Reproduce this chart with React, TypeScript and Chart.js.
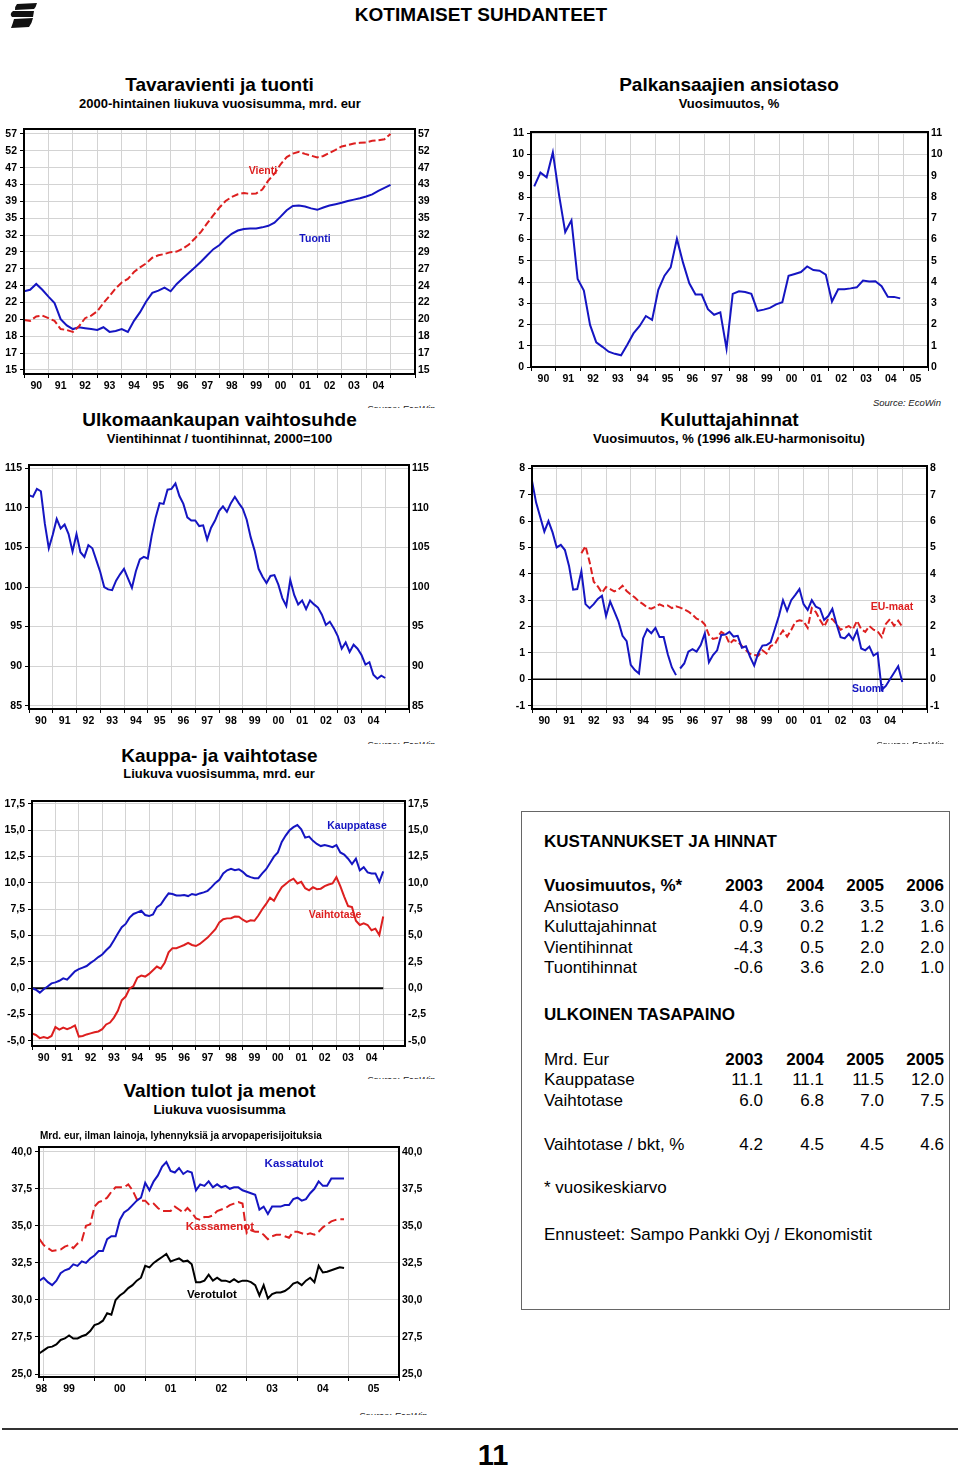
import React, { useEffect, useRef } from 'react';
import { Chart, registerables } from 'chart.js';

Chart.register(...registerables);

const FONT = '"Liberation Sans", Arial, Helvetica, sans-serif';
const BLUE = '#1515c2';
const RED = '#dd1f1f';
const GRID = '#d3d3d3';

// ---------- Chart 1: Tavaravienti ja tuonti (quarterly, log scale) ----------
const c1Start = 1990;
const c1Step = 0.25;
const vientiValues = [
  19.9, 19.8, 20.3, 20.4, 20.1, 19.8, 18.9, 18.8, 18.6, 19.2,
  20.1, 20.4, 20.9, 21.9, 22.8, 23.8, 24.6, 25.1, 26.1, 26.8,
  27.4, 28.3, 28.7, 28.9, 29.2, 29.3, 29.8, 30.5, 31.6, 32.8,
  34.4, 36.0, 37.6, 39.0, 39.9, 40.5, 40.8, 40.6, 40.7, 41.6,
  43.8, 45.5, 48.0, 50.0, 51.0, 51.5, 50.9, 50.4, 49.9, 50.3,
  51.2, 52.1, 53.1, 53.5, 54.0, 54.2, 54.3, 54.8, 55.0, 55.3, 57.0,
];
const tuontiValues = [
  23.4, 23.6, 24.4, 23.6, 22.7, 21.9, 20.0, 19.3, 18.9, 19.1,
  19.0, 18.9, 18.8, 19.1, 18.6, 18.7, 18.9, 18.6, 19.8, 20.8,
  22.1, 23.2, 23.5, 23.9, 23.4, 24.4, 25.2, 26.0, 26.8, 27.7,
  28.7, 29.7, 30.4, 31.5, 32.4, 33.0, 33.3, 33.4, 33.4, 33.6,
  33.9, 34.5, 35.7, 37.0, 37.9, 38.0, 37.8, 37.4, 37.1, 37.6,
  38.0, 38.3, 38.6, 39.0, 39.3, 39.6, 40.0, 40.5, 41.3, 42.0, 42.7,
];
const c1YTicks = [15, 16.5, 18.15, 19.965, 21.96, 24.16, 26.57, 29.23, 32.15, 35.37, 38.91, 42.8, 47.08, 51.79, 56.97];
const c1YLabels = ['15', '17', '18', '20', '22', '24', '27', '29', '32', '35', '39', '43', '47', '52', '57'];

// ---------- Chart 2: Palkansaajien ansiotaso (quarterly) ----------
const c2Start = 1990.13;
const c2Step = 0.25;
const ansiotasoValues = [
  8.5, 9.15, 8.93, 10.1, 8.1, 6.35, 6.9, 4.14, 3.6, 1.98,
  1.16, 0.95, 0.72, 0.62, 0.55, 1.05, 1.58, 1.93, 2.4, 2.22,
  3.63, 4.3, 4.69, 6.03, 4.9, 3.94, 3.41, 3.41, 2.72, 2.46,
  2.57, 0.86, 3.44, 3.56, 3.53, 3.44, 2.64, 2.7, 2.78, 2.95,
  3.05, 4.29, 4.38, 4.47, 4.73, 4.56, 4.53, 4.35, 3.08, 3.66,
  3.66, 3.7, 3.75, 4.07, 4.02, 4.04, 3.8, 3.31, 3.3, 3.23,
];
const c2YTicks = [0, 1, 2, 3, 4, 5, 6, 7, 8, 9, 10, 11];
const c2YLabels = ['0', '1', '2', '3', '4', '5', '6', '7', '8', '9', '10', '11'];

// ---------- Chart 3: Ulkomaankaupan vaihtosuhde (bi-monthly) ----------
const c3Start = 1990;
const c3Step = 1 / 6;
const vaihtosuhdeValues = [
  111.6, 111.4, 112.4, 112.1, 108.0, 104.9, 106.6, 108.6, 107.4, 107.9,
  106.7, 104.5, 106.7, 104.4, 103.8, 105.3, 104.9, 103.4, 101.9, 100.0,
  99.7, 99.6, 100.8, 101.6, 102.3, 101.1, 99.9, 102.0, 103.5, 103.8,
  103.6, 106.5, 108.8, 110.6, 110.5, 112.3, 112.4, 113.1, 111.5, 110.5,
  108.8, 108.4, 108.4, 107.7, 107.8, 106.0, 107.5, 108.4, 109.6, 110.2,
  109.5, 110.6, 111.4, 110.6, 109.9, 108.5, 106.3, 104.6, 102.3, 101.3,
  100.5, 101.4, 101.5, 100.3, 98.6, 97.6, 100.9, 99.0, 97.8, 98.3,
  97.2, 98.3, 97.8, 97.4, 96.5, 95.2, 95.6, 94.8, 93.8, 92.2,
  93.0, 91.8, 92.7, 92.2, 91.4, 90.2, 90.5, 88.9, 88.4, 88.8, 88.5,
];
const c3YTicks = [85, 90, 95, 100, 105, 110, 115];
const c3YLabels = ['85', '90', '95', '100', '105', '110', '115'];

// ---------- Chart 4: Kuluttajahinnat (bi-monthly) ----------
const suomiAStart = 1990;
const suomiAValues = [
  7.52, 6.7, 6.15, 5.6, 6.0, 5.57, 5.0, 5.1, 4.9, 4.3,
  3.4, 3.42, 4.1, 2.85, 2.7, 2.85, 3.05, 3.17, 2.4, 2.95,
  2.58, 2.2, 1.65, 1.45, 0.55, 0.35, 0.22, 1.55, 1.9, 1.75,
  1.95, 1.6, 1.6, 0.95, 0.45, 0.16,
];
const suomiBStart = 1996;
const suomiBValues = [
  0.41, 0.6, 1.05, 1.14, 1.05, 1.3, 1.74, 0.65, 0.92, 1.1,
  1.68, 1.7, 1.8, 1.62, 1.65, 1.2, 1.25, 0.85, 0.52, 1.0,
  1.28, 1.3, 1.4, 1.9, 2.4, 3.0, 2.6, 3.0, 3.2, 3.42,
  2.85, 2.63, 3.0, 2.75, 2.68, 2.25, 2.4, 2.67, 2.1, 1.6,
  1.55, 1.72, 1.5, 1.85, 1.17, 1.1, 1.24, 0.9, 1.0, -0.4,
  -0.25, 0.0, 0.25, 0.5, -0.1,
];
const euStart = 1992;
const euMaatValues = [
  4.78, 5.05, 4.45, 3.7, 3.52, 3.28, 3.5, 3.42, 3.33, 3.4,
  3.55, 3.35, 3.22, 3.1, 2.95, 2.85, 2.72, 2.68, 2.75, 2.84,
  2.77, 2.8, 2.7, 2.77, 2.72, 2.65, 2.57, 2.45, 2.3, 2.24,
  2.08, 1.68, 1.53, 1.57, 1.8, 1.7, 1.35, 1.49, 1.43, 1.27,
  1.1, 0.97, 0.92, 0.9, 1.1, 0.98, 1.26, 1.32, 1.62, 1.85,
  1.62, 1.87, 2.18, 2.24, 2.2, 1.95, 2.7, 2.55, 2.25, 2.0,
  2.3, 2.28, 2.1, 1.88, 1.95, 2.02, 1.9, 2.22, 1.9, 1.8,
  2.02, 1.88, 1.82, 1.6, 2.1, 2.28, 2.03, 2.22, 1.99,
];
const c4Step = 1 / 6;
const c4YTicks = [-1, 0, 1, 2, 3, 4, 5, 6, 7, 8];
const c4YLabels = ['-1', '0', '1', '2', '3', '4', '5', '6', '7', '8'];

// ---------- Chart 5: Kauppa- ja vaihtotase (bi-monthly) ----------
const c5Start = 1990;
const c5Step = 1 / 6;
const kauppataseValues = [
  0.0, -0.15, -0.43, -0.1, 0.15, 0.45, 0.55, 0.7, 0.93, 0.8,
  1.2, 1.6, 1.8, 1.95, 2.1, 2.4, 2.65, 2.95, 3.2, 3.6,
  3.95, 4.55, 5.2, 5.8, 6.1, 6.7, 7.05, 7.2, 7.35, 6.95,
  6.85, 7.0, 7.7, 7.95, 8.5, 9.0, 8.95, 8.8, 8.8, 8.85,
  8.75, 8.95, 8.85, 9.0, 9.1, 9.25, 9.6, 10.0, 10.3, 10.9,
  11.2, 11.35, 11.2, 11.3, 11.05, 10.7, 10.55, 10.45, 10.45, 10.9,
  11.3, 11.9, 12.5, 12.9, 13.9, 14.5, 15.0, 15.3, 15.5, 15.1,
  14.3, 14.4, 14.0, 13.7, 13.5, 13.6, 13.5, 13.4, 13.6, 12.9,
  12.7, 12.3, 11.8, 12.3, 11.2, 11.5, 11.0, 10.9, 10.9, 10.1, 11.1,
];
const vaihtotaseValues = [
  -4.3, -4.45, -4.75, -4.65, -4.75, -4.55, -3.7, -3.95, -3.75, -3.9,
  -3.75, -3.55, -4.6, -4.55, -4.4, -4.3, -4.2, -4.12, -3.9, -3.45,
  -3.27, -2.8, -2.15, -1.15, -0.8, -0.05, 0.2, 1.0, 1.2, 1.1,
  1.35, 1.7, 2.05, 1.85, 2.4, 3.4, 3.8, 3.8, 3.95, 4.1,
  4.3, 4.1, 4.0, 4.2, 4.5, 4.8, 5.2, 5.6, 6.25, 6.55,
  6.63, 6.65, 6.8, 6.78, 6.5, 6.3, 6.45, 6.4, 6.9, 7.5,
  8.0, 8.6, 8.3, 9.0, 9.6, 9.9, 10.2, 10.4, 9.95, 10.1,
  9.5, 9.3, 9.6, 9.4, 9.45, 9.7, 9.85, 9.95, 10.55, 9.7,
  8.7, 7.8, 7.7, 6.4, 6.0, 6.15, 6.0, 5.5, 5.65, 5.05, 6.8,
];
const c5YTicks = [-5, -2.5, 0, 2.5, 5, 7.5, 10, 12.5, 15, 17.5];
const c5YLabels = ['-5,0', '-2,5', '0,0', '2,5', '5,0', '7,5', '10,0', '12,5', '15,0', '17,5'];

// ---------- Chart 6: Valtion tulot ja menot (monthly) ----------
const c6Start = 1998.917;
const c6Step = 1 / 12;
const kassatulotValues = [
  31.3, 31.5, 31.2, 31.0, 31.3, 31.8, 32.0, 32.1, 32.4, 32.3,
  32.6, 32.5, 32.8, 33.0, 33.3, 33.3, 34.1, 34.3, 34.3, 35.4,
  35.9, 36.1, 36.4, 36.7, 36.9, 37.9, 37.4, 38.0, 38.4, 39.0,
  39.3, 38.7, 38.6, 38.9, 38.5, 38.7, 38.6, 37.4, 37.8, 37.7,
  38.0, 37.6, 37.8, 37.6, 37.7, 37.5, 37.6, 37.6, 37.4, 37.3,
  37.2, 37.1, 36.1, 36.3, 35.8, 36.3, 36.3, 36.3, 36.4, 36.4,
  36.8, 36.9, 36.7, 36.8, 37.2, 37.5, 38.0, 37.7, 37.7, 38.2,
  38.2, 38.2, 38.2,
];
const kassamenotValues = [
  34.1, 33.7, 33.5, 33.3, 33.35, 33.4, 33.6, 33.7, 33.5, 33.8,
  34.0, 35.0, 35.1, 36.3, 36.6, 36.7, 36.9, 37.3, 37.6, 37.6,
  37.6, 37.8, 37.4, 36.8, 36.7, 36.7, 36.4, 36.5, 36.2, 36.0,
  36.0, 36.0, 36.3, 36.1, 35.9, 36.2, 35.9, 35.5, 35.4, 35.6,
  35.6, 35.7, 36.0, 36.1, 36.2, 36.4, 36.5, 36.6, 36.5, 34.5,
  34.7, 34.6, 34.6, 34.4, 34.1, 34.3, 34.4, 34.4, 34.3, 34.2,
  34.6, 34.6, 34.5, 34.4, 34.5, 34.4, 34.6, 34.9, 35.1, 35.3,
  35.4, 35.45, 35.45,
];
const verotulotValues = [
  26.4, 26.6, 26.8, 26.85, 27.0, 27.3, 27.4, 27.6, 27.4, 27.4,
  27.55, 27.65, 27.9, 28.3, 28.4, 28.6, 29.1, 29.0, 30.0, 30.3,
  30.5, 30.8, 31.0, 31.3, 31.5, 32.3, 32.2, 32.5, 32.7, 32.9,
  33.1, 32.6, 32.7, 32.8, 32.6, 32.65, 32.4, 31.2, 31.2, 31.3,
  31.7, 31.3, 31.5, 31.3, 31.3, 31.2, 31.4, 31.2, 31.3, 31.3,
  31.2, 31.0, 30.3, 31.0, 30.1, 30.4, 30.5, 30.5, 30.6, 30.8,
  31.1, 31.2, 31.0, 31.3, 31.5, 31.2, 32.3, 31.85, 31.9, 32.0,
  32.1, 32.2, 32.15,
];
const c6YTicks = [25, 27.5, 30, 32.5, 35, 37.5, 40];
const c6YLabels = ['25,0', '27,5', '30,0', '32,5', '35,0', '37,5', '40,0'];

// ---------- Year labels ----------
const years90to04 = ['90', '91', '92', '93', '94', '95', '96', '97', '98', '99', '00', '01', '02', '03', '04'];
const years90to05 = [...years90to04, '05'];
const years98to05 = ['98', '99', '00', '01', '02', '03', '04', '05'];

// ---------- Table ----------
const tableYearsA = ['2003', '2004', '2005', '2006'];
const tableYearsB = ['2003', '2004', '2005', '2005'];
const costRowNames = ['Ansiotaso', 'Kuluttajahinnat', 'Vientihinnat', 'Tuontihinnat'];
const costRowValues = [
  [4.0, 3.6, 3.5, 3.0],
  [0.9, 0.2, 1.2, 1.6],
  [-4.3, 0.5, 2.0, 2.0],
  [-0.6, 3.6, 2.0, 1.0],
];
const balanceRowNames = ['Kauppatase', 'Vaihtotase'];
const balanceRowValues = [
  [11.1, 11.1, 11.5, 12.0],
  [6.0, 6.8, 7.0, 7.5],
];
const gdpRowName = 'Vaihtotase / bkt, %';
const gdpRowValues = [4.2, 4.5, 4.5, 4.6];

// ---------- Chart machinery ----------
type Line = { values: (number | null)[]; start: number; step: number; color: string; dash?: number[]; width?: number };
type Spec = {
  plot: [number, number, number, number];
  leftW: number;
  xMin: number; xMax: number;
  yMin: number; yMax: number;
  yTicks: number[]; yLabels: string[];
  xLabels: string[]; xFirstYear: number;
  log?: boolean;
  lines: Line[];
};

const toPoints = (l: Line) => l.values.map((v, i) => ({ x: l.start + i * l.step, y: v }));

const framePlugin = {
  id: 'frame',
  afterDatasetsDraw(chart: any) {
    const { ctx, chartArea: a } = chart;
    ctx.save();
    ctx.strokeStyle = '#000';
    ctx.lineWidth = 2;
    ctx.strokeRect(a.left, a.top, a.right - a.left, a.bottom - a.top);
    ctx.restore();
  },
};

const PAD_TOP = 10;
const RIGHT_W = 30;
const BOTTOM_H = 22;

function ChartBox({ spec }: { spec: Spec }) {
  const ref = useRef<HTMLCanvasElement | null>(null);
  const [pl, pt, pw, ph] = spec.plot;
  const W = spec.leftW + pw + RIGHT_W;
  const H = PAD_TOP + ph + BOTTOM_H;
  useEffect(() => {
    const gridYears: number[] = [];
    for (let y = Math.ceil(spec.xMin); y <= Math.floor(spec.xMax); y++) gridYears.push(y);
    const labelMap = new Map<number, string>();
    spec.xLabels.forEach((lab, k) => {
      const y0 = spec.xFirstYear + k;
      const lo = Math.max(y0, spec.xMin);
      const hi = Math.min(y0 + 1, spec.xMax);
      labelMap.set((lo + hi) / 2, lab);
    });
    const xTickVals = [...gridYears, ...Array.from(labelMap.keys())].sort((a, b) => a - b);
    const gridSet = new Set(gridYears);
    const tickFont = { family: FONT, size: 10.5, weight: 'bold' as const };
    const yAxis = (pos: 'left' | 'right') => ({
      type: spec.log ? 'logarithmic' : 'linear',
      position: pos,
      min: spec.yMin,
      max: spec.yMax,
      afterBuildTicks: (s: any) => { s.ticks = spec.yTicks.map((v) => ({ value: v })); },
      afterFit: (s: any) => { s.width = pos === 'left' ? spec.leftW : RIGHT_W; },
      grid: pos === 'left'
        ? { color: GRID, lineWidth: 1, tickColor: '#000', tickLength: 4 }
        : { drawOnChartArea: false, drawTicks: false },
      border: { display: false },
      ticks: {
        autoSkip: false,
        font: tickFont,
        color: '#000',
        padding: 3,
        callback: (_v: any, i: number) => spec.yLabels[i],
      },
    });
    const chart = new Chart(ref.current as HTMLCanvasElement, {
      type: 'line',
      data: {
        datasets: spec.lines.map((l) => ({
          data: toPoints(l),
          borderColor: l.color,
          borderWidth: l.width ?? 2,
          borderDash: l.dash ?? [],
          pointRadius: 0,
          fill: false,
          tension: 0,
          spanGaps: false,
          xAxisID: 'x',
          yAxisID: 'y',
        })),
      } as any,
      options: {
        responsive: false,
        maintainAspectRatio: false,
        animation: false,
        events: [],
        layout: { padding: { top: PAD_TOP, left: 0, right: 0, bottom: 0 } },
        plugins: { legend: { display: false }, tooltip: { enabled: false } },
        scales: {
          x: {
            type: 'linear',
            position: 'bottom',
            min: spec.xMin,
            max: spec.xMax,
            afterBuildTicks: (s: any) => { s.ticks = xTickVals.map((v) => ({ value: v })); },
            afterFit: (s: any) => { s.height = BOTTOM_H; },
            grid: {
              color: (c: any) => (c.tick && gridSet.has(c.tick.value) ? GRID : 'rgba(0,0,0,0)'),
              tickColor: (c: any) => (c.tick && gridSet.has(c.tick.value) ? '#000' : 'rgba(0,0,0,0)'),
              tickLength: 4,
              lineWidth: 1,
            },
            border: { display: false },
            ticks: {
              autoSkip: false,
              maxRotation: 0,
              minRotation: 0,
              padding: 2,
              font: tickFont,
              color: '#000',
              callback: (v: any) => labelMap.get(v) ?? '',
            },
          },
          y: yAxis('left'),
          yR: yAxis('right'),
        } as any,
      },
      plugins: [framePlugin],
    });
    return () => chart.destroy();
  }, []);
  return (
    <canvas
      ref={ref}
      width={W}
      height={H}
      style={{ position: 'absolute', left: pl - spec.leftW, top: pt - PAD_TOP, width: W, height: H }}
    />
  );
}

function Txt(props: { x: number; y: number; size: number; bold?: boolean; color?: string; align?: 'left' | 'center' | 'right'; italic?: boolean; children: React.ReactNode }) {
  const { x, y, size, bold = true, color = '#000', align = 'center', italic = false, children } = props;
  const tx = align === 'center' ? '-50%' : align === 'right' ? '-100%' : '0';
  return (
    <div
      style={{
        position: 'absolute', left: x, top: y, transform: `translate(${tx}, -50%)`,
        fontSize: size, fontWeight: bold ? 700 : 400, fontStyle: italic ? 'italic' : 'normal',
        color, whiteSpace: 'nowrap', lineHeight: 1, fontFamily: FONT,
      }}
    >
      {children}
    </div>
  );
}

function ClipSource({ x, y }: { x: number; y: number }) {
  return (
    <div style={{ position: 'absolute', left: x, top: y, height: 5, overflow: 'hidden', fontSize: 9.5, fontStyle: 'italic', fontFamily: FONT, lineHeight: '12px', whiteSpace: 'nowrap', color: '#222' }}>
      Source: EcoWin
    </div>
  );
}

const specs: Spec[] = [
  {
    plot: [24, 129, 391, 245], leftW: 24,
    xMin: 1990, xMax: 2006, yMin: 14.66, yMax: 58.6, log: true,
    yTicks: c1YTicks, yLabels: c1YLabels, xLabels: years90to04, xFirstYear: 1990,
    lines: [
      { values: vientiValues, start: c1Start, step: c1Step, color: RED, dash: [7, 3] },
      { values: tuontiValues, start: c1Start, step: c1Step, color: BLUE },
    ],
  },
  {
    plot: [531, 132, 397, 235], leftW: 30,
    xMin: 1990, xMax: 2006, yMin: 0, yMax: 11.06,
    yTicks: c2YTicks, yLabels: c2YLabels, xLabels: years90to05, xFirstYear: 1990,
    lines: [{ values: ansiotasoValues, start: c2Start, step: c2Step, color: BLUE }],
  },
  {
    plot: [29, 465, 380, 244], leftW: 29,
    xMin: 1990, xMax: 2006, yMin: 84.58, yMax: 115.42,
    yTicks: c3YTicks, yLabels: c3YLabels, xLabels: years90to04, xFirstYear: 1990,
    lines: [{ values: vaihtosuhdeValues, start: c3Start, step: c3Step, color: BLUE }],
  },
  {
    plot: [532, 466, 395, 243], leftW: 30,
    xMin: 1990, xMax: 2006, yMin: -1.125, yMax: 8.087,
    yTicks: c4YTicks, yLabels: c4YLabels, xLabels: years90to04, xFirstYear: 1990,
    lines: [
      { values: suomiAValues, start: suomiAStart, step: c4Step, color: BLUE },
      { values: suomiBValues, start: suomiBStart, step: c4Step, color: BLUE },
      { values: euMaatValues, start: euStart, step: c4Step, color: RED, dash: [7, 3] },
      { values: [0, 0], start: 1990, step: 16, color: '#000', width: 1.5 },
    ],
  },
  {
    plot: [32, 801, 373, 245], leftW: 32,
    xMin: 1990, xMax: 2005.93, yMin: -5.5, yMax: 17.785,
    yTicks: c5YTicks, yLabels: c5YLabels, xLabels: years90to04, xFirstYear: 1990,
    lines: [
      { values: kauppataseValues, start: c5Start, step: c5Step, color: BLUE },
      { values: vaihtotaseValues, start: c5Start, step: c5Step, color: RED },
      { values: [0, 0], start: 1990, step: 15, color: '#000', width: 2 },
    ],
  },
  {
    plot: [39, 1147, 360, 230], leftW: 39,
    xMin: 1998.908, xMax: 2006, yMin: 24.8, yMax: 40.32,
    yTicks: c6YTicks, yLabels: c6YLabels, xLabels: years98to05, xFirstYear: 1998,
    lines: [
      { values: kassatulotValues, start: c6Start, step: c6Step, color: BLUE },
      { values: kassamenotValues, start: c6Start, step: c6Step, color: RED, dash: [9, 4] },
      { values: verotulotValues, start: c6Start, step: c6Step, color: '#000' },
    ],
  },
];

const COLS = [763, 824, 884, 944];
const fmt = (v: number) => v.toFixed(1);

export default function App() {
  const tableRowsCost = [906, 926, 947, 967];
  const tableRowsBal = [1079, 1100];
  return (
    <div style={{ position: 'absolute', left: 0, top: 0, width: 960, height: 1468, background: '#fff', fontFamily: FONT, overflow: 'hidden' }}>
      <svg width={34} height={30} style={{ position: 'absolute', left: 4, top: 1 }} viewBox="0 0 34 30">
        <path d="M13 3 L33 2 Q32 6 30 8 L11 9 Q11 5 13 3 Z" fill="#111" />
        <path d="M9 10 L30 10 L29 16 L8 16 Q5 13 9 10 Z" fill="#111" />
        <path d="M10 18 L29 17 Q28 22 25 26 L7 27 Q9 22 10 18 Z" fill="#111" />
      </svg>
      <Txt x={481} y={14} size={19}>KOTIMAISET SUHDANTEET</Txt>

      <Txt x={219.5} y={84} size={19}>Tavaravienti ja tuonti</Txt>
      <Txt x={220} y={103} size={13}>2000-hintainen liukuva vuosisumma, mrd. eur</Txt>
      <Txt x={729} y={84} size={19}>Palkansaajien ansiotaso</Txt>
      <Txt x={729} y={103} size={13}>Vuosimuutos, %</Txt>

      {specs.map((s, i) => <ChartBox key={i} spec={s} />)}

      <Txt x={263} y={170} size={10.5} color={RED}>Vienti</Txt>
      <Txt x={315} y={238} size={10.5} color={BLUE}>Tuonti</Txt>

      <ClipSource x={367} y={403} />
      <Txt x={941} y={403} size={9.5} bold={false} italic align="right" color="#222">Source: EcoWin</Txt>

      <Txt x={219.5} y={419} size={19}>Ulkomaankaupan vaihtosuhde</Txt>
      <Txt x={219.5} y={438} size={13}>Vientihinnat / tuontihinnat, 2000=100</Txt>
      <Txt x={729.5} y={419} size={19}>Kuluttajahinnat</Txt>
      <Txt x={729} y={438} size={13}>Vuosimuutos, % (1996 alk.EU-harmonisoitu)</Txt>

      <Txt x={892} y={606} size={10.5} color={RED}>EU-maat</Txt>
      <Txt x={852} y={688} size={10.5} color={BLUE} align="left">Suomi</Txt>

      <ClipSource x={367} y={739} />
      <ClipSource x={876} y={739} />

      <Txt x={219.5} y={755} size={19}>Kauppa- ja vaihtotase</Txt>
      <Txt x={219} y={773} size={13}>Liukuva vuosisumma, mrd. eur</Txt>
      <Txt x={357} y={825} size={10.5} color={BLUE}>Kauppatase</Txt>
      <Txt x={335} y={914} size={10.5} color={RED}>Vaihtotase</Txt>

      <ClipSource x={367} y={1074} />

      <Txt x={219.5} y={1090} size={19}>Valtion tulot ja menot</Txt>
      <Txt x={219.5} y={1109} size={13}>Liukuva vuosisumma</Txt>
      <Txt x={40} y={1136} size={10} align="left">Mrd. eur, ilman lainoja, lyhennyksiä ja arvopaperisijoituksia</Txt>
      <Txt x={294} y={1164} size={11.5} color={BLUE}>Kassatulot</Txt>
      <Txt x={220} y={1227} size={11.5} color={RED}>Kassamenot</Txt>
      <Txt x={212} y={1295} size={11.5}>Verotulot</Txt>

      <ClipSource x={359} y={1410} />

      {/* Table box */}
      <div style={{ position: 'absolute', left: 521, top: 811, width: 429, height: 499, border: '1.5px solid #666', boxSizing: 'border-box' }} />
      <Txt x={544} y={841} size={17} align="left">KUSTANNUKSET JA HINNAT</Txt>
      <Txt x={544} y={885} size={17} align="left">Vuosimuutos, %*</Txt>
      {tableYearsA.map((y, j) => <Txt key={'ya' + j} x={COLS[j]} y={885} size={17} align="right">{y}</Txt>)}
      {costRowNames.map((n, r) => (
        <React.Fragment key={'c' + r}>
          <Txt x={544} y={tableRowsCost[r]} size={17} bold={false} align="left">{n}</Txt>
          {costRowValues[r].map((v, j) => <Txt key={j} x={COLS[j]} y={tableRowsCost[r]} size={17} bold={false} align="right">{fmt(v)}</Txt>)}
        </React.Fragment>
      ))}
      <Txt x={544} y={1014} size={17} align="left">ULKOINEN TASAPAINO</Txt>
      <Txt x={544} y={1059} size={17} bold={false} align="left">Mrd. Eur</Txt>
      {tableYearsB.map((y, j) => <Txt key={'yb' + j} x={COLS[j]} y={1059} size={17} align="right">{y}</Txt>)}
      {balanceRowNames.map((n, r) => (
        <React.Fragment key={'b' + r}>
          <Txt x={544} y={tableRowsBal[r]} size={17} bold={false} align="left">{n}</Txt>
          {balanceRowValues[r].map((v, j) => <Txt key={j} x={COLS[j]} y={tableRowsBal[r]} size={17} bold={false} align="right">{fmt(v)}</Txt>)}
        </React.Fragment>
      ))}
      <Txt x={544} y={1144} size={17} bold={false} align="left">{gdpRowName}</Txt>
      {gdpRowValues.map((v, j) => <Txt key={'g' + j} x={COLS[j]} y={1144} size={17} bold={false} align="right">{fmt(v)}</Txt>)}
      <Txt x={544} y={1187} size={17} bold={false} align="left">* vuosikeskiarvo</Txt>
      <Txt x={544} y={1234} size={17} bold={false} align="left">Ennusteet: Sampo Pankki Oyj / Ekonomistit</Txt>

      <div style={{ position: 'absolute', left: 2, top: 1428, width: 956, height: 1.5, background: '#333' }} />
      <Txt x={493} y={1455} size={29}>11</Txt>
    </div>
  );
}
